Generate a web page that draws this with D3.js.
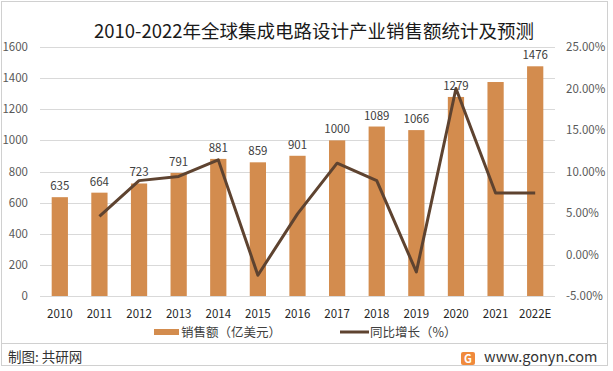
<!DOCTYPE html>
<html>
<head>
<meta charset="utf-8">
<script src="https://cdn.jsdelivr.net/npm/d3@7"></script>
<style>
  body { margin: 0; background: #fff; }
  svg text { font-family: "Noto Sans CJK SC", "Liberation Sans", sans-serif; }
</style>
</head>
<body>
<div id="chart"></div>
<script>
// 数据
var years = ["2010","2011","2012","2013","2014","2015","2016","2017","2018","2019","2020","2021","2022E"];
var sales = [635, 664, 723, 791, 881, 859, 901, 1000, 1089, 1066, 1279, 1375, 1476];
var salesLabels = ["635","664","723","791","881","859","901","1000","1089","1066","1279","","1476"];
var growth = [null, 4.6, 8.9, 9.4, 11.4, -2.5, 4.9, 11.0, 8.9, -2.1, 20.0, 7.4, 7.4];
var leftTicks = [0, 200, 400, 600, 800, 1000, 1200, 1400, 1600];
var rightTicks = [-5, 0, 5, 10, 15, 20, 25];

var W = 613, H = 371;
var colors = {
    bar: "#D38C4E",
    line: "#5E4330",
    grid: "#D9D9D9",
    axisText: "#595959",
    label: "#404040",
    border: "#D0D0D0"
};

var svg = d3.select("#chart").append("svg")
    .attr("width", W)
    .attr("height", H);

svg.append("rect")
    .attr("x", 1.5).attr("y", 1.5)
    .attr("width", 606).attr("height", 364)
    .attr("fill", "#fff")
    .attr("stroke", colors.border);

// 标题
svg.append("text")
    .attr("x", 314).attr("y", 38)
    .attr("text-anchor", "middle")
    .attr("font-size", 18.5)
    .attr("fill", "#1a1a1a")
    .text("2010-2022年全球集成电路设计产业销售额统计及预测");

var x = d3.scaleBand().domain(years).range([40, 555]).padding(0);
var yL = d3.scaleLinear().domain([0, 1600]).range([296, 47]);
var yR = d3.scaleLinear().domain([-5, 25]).range([296, 47]);
var bw = x.bandwidth() * 0.41;

// 网格线
svg.append("g").selectAll("line")
    .data(leftTicks)
    .join("line")
    .attr("x1", 40).attr("x2", 555)
    .attr("y1", function (d) { return Math.round(yL(d)) + 0.5; })
    .attr("y2", function (d) { return Math.round(yL(d)) + 0.5; })
    .attr("stroke", colors.grid)
    .attr("stroke-width", 1);

// 左轴
svg.append("g").selectAll("text")
    .data(leftTicks)
    .join("text")
    .attr("x", 28)
    .attr("y", function (d) { return yL(d) + 4; })
    .attr("text-anchor", "end")
    .attr("font-size", 11.5)
    .attr("fill", colors.axisText)
    .text(function (d) { return d; });

// 右轴
svg.append("g").selectAll("text")
    .data(rightTicks)
    .join("text")
    .attr("x", 566)
    .attr("y", function (d) { return yR(d) + 4; })
    .attr("font-size", 11.5)
    .attr("fill", colors.axisText)
    .text(function (d) { return d.toFixed(2) + "%"; });

// x轴标签
svg.append("g").selectAll("text")
    .data(years)
    .join("text")
    .attr("x", function (d) { return x(d) + x.bandwidth() / 2; })
    .attr("y", 318)
    .attr("text-anchor", "middle")
    .attr("font-size", 11.5)
    .attr("fill", "#262626")
    .text(function (d) { return d; });

// 柱子
svg.append("g").selectAll("rect")
    .data(sales)
    .join("rect")
    .attr("x", function (d, i) { return x(years[i]) + x.bandwidth() / 2 - bw / 2; })
    .attr("y", function (d) { return yL(d); })
    .attr("width", bw)
    .attr("height", function (d) { return yL(0) - yL(d); })
    .attr("fill", colors.bar);

// 折线
var line = d3.line()
    .defined(function (d) { return d != null; })
    .x(function (d, i) { return x(years[i]) + x.bandwidth() / 2; })
    .y(function (d) { return yR(d); });

svg.append("path")
    .attr("d", line(growth))
    .attr("fill", "none")
    .attr("stroke", colors.line)
    .attr("stroke-width", 3)
    .attr("stroke-linejoin", "round");

// 数据标签
svg.append("g").selectAll("text")
    .data(sales)
    .join("text")
    .attr("x", function (d, i) { return x(years[i]) + x.bandwidth() / 2; })
    .attr("y", function (d) { return yL(d) - 7; })
    .attr("text-anchor", "middle")
    .attr("font-size", 11.5)
    .attr("fill", colors.label)
    .text(function (d, i) { return salesLabels[i]; });

// 图例
var lg = svg.append("g");
lg.append("rect")
    .attr("x", 154).attr("y", 329)
    .attr("width", 25).attr("height", 6)
    .attr("fill", colors.bar);
lg.append("text")
    .attr("x", 181).attr("y", 337)
    .attr("font-size", 12.5)
    .attr("fill", "#404040")
    .text("销售额（亿美元）");
lg.append("line")
    .attr("x1", 340).attr("x2", 369)
    .attr("y1", 332).attr("y2", 332)
    .attr("stroke", colors.line)
    .attr("stroke-width", 3);
lg.append("text")
    .attr("x", 370).attr("y", 337)
    .attr("font-size", 12.5)
    .attr("fill", "#404040")
    .text("同比增长（%）");

// 底部
svg.append("line")
    .attr("x1", 1.5).attr("x2", 607.5)
    .attr("y1", 343.5).attr("y2", 343.5)
    .attr("stroke", colors.border);
svg.append("text")
    .attr("x", 8).attr("y", 362)
    .attr("font-size", 13.5)
    .attr("fill", "#333")
    .text("制图: 共研网");
svg.append("rect")
    .attr("x", 461).attr("y", 352)
    .attr("width", 14).attr("height", 13)
    .attr("rx", 2)
    .attr("fill", "#F08A3C");
svg.append("text")
    .attr("x", 468).attr("y", 363)
    .attr("text-anchor", "middle")
    .attr("font-size", 11)
    .attr("font-weight", "bold")
    .attr("fill", "#fff")
    .text("G");
svg.append("text")
    .attr("x", 484).attr("y", 362)
    .attr("font-size", 14.5)
    .attr("fill", "#333")
    .attr("font-family", "Liberation Sans, sans-serif")
    .text("www.gonyn.com");
</script>
</body>
</html>
